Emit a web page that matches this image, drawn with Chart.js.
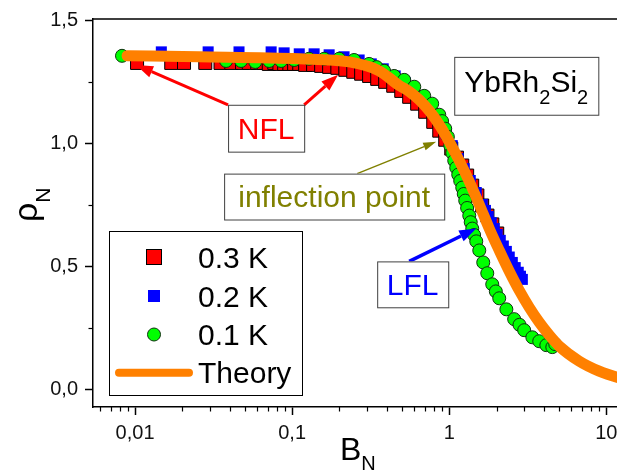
<!DOCTYPE html>
<html>
<head>
<meta charset="utf-8">
<script src="https://cdn.jsdelivr.net/npm/chart.js@4.4.0/dist/chart.umd.min.js"></script>
<style>
  html, body { margin: 0; padding: 0; background: #fff; overflow: hidden; }
  #wrap { width: 660px; height: 470px; }
</style>
</head>
<body>
<div id="wrap"><canvas id="myChart" width="660" height="470"></canvas></div>
<script>
const FONT = '"Liberation Sans", Arial, Helvetica, sans-serif';

// 0.3 K (red squares)
const b03 = [0.0103,0.017,0.0205,0.028,0.035,0.041,0.048,0.053,0.06,0.066,0.071,0.077,0.083,0.089,0.096,0.103,0.111,0.121,0.136,0.153,0.172,0.194,0.218,0.245,0.275,0.309,0.348,0.391,0.44,0.495,0.556,0.625,0.703,0.791,0.864,0.943,1.03,1.12,1.21,1.30,1.40,1.51,1.62,1.75,1.88,2.02];
const rho03 = [1.329,1.329,1.329,1.329,1.329,1.329,1.329,1.329,1.329,1.329,1.325,1.329,1.325,1.325,1.325,1.325,1.325,1.321,1.321,1.317,1.313,1.309,1.301,1.293,1.285,1.276,1.264,1.252,1.236,1.215,1.191,1.163,1.130,1.089,1.053,1.016,0.980,0.943,0.911,0.870,0.829,0.789,0.748,0.707,0.671,0.634];

// 0.2 K (blue squares)
const b02 = [0.0147,0.0292,0.0459,0.0735,0.0889,0.111,0.138,0.172,0.214,0.267,0.319,0.38,0.453,0.525,0.598,0.683,0.768,0.864,0.957,1.045,1.141,1.246,1.361,1.486,1.623,1.70,1.772,1.85,1.935,2.02,2.113,2.21,2.31,2.41,2.52,2.63,2.75,2.84,2.92];
const rho02 = [1.374,1.374,1.374,1.374,1.370,1.366,1.366,1.362,1.354,1.341,1.325,1.305,1.276,1.248,1.215,1.179,1.138,1.093,1.041,0.992,0.939,0.898,0.85,0.801,0.752,0.728,0.703,0.678,0.654,0.63,0.606,0.583,0.561,0.538,0.516,0.495,0.476,0.46,0.447];

// 0.1 K (green circles)
const b01 = [0.00826,0.038,0.0473,0.0582,0.0714,0.0851,0.103,0.128,0.16,0.199,0.248,0.309,0.345,0.385,0.446,0.517,0.599,0.693,0.779,0.864,0.90,0.943,0.98,1.015,1.045,1.076,1.108,1.141,1.175,1.21,1.237,1.264,1.30,1.341,1.37,1.401,1.44,1.486,1.553,1.646,1.746,1.878,1.98,2.081,2.31,2.59,2.8,3.0,3.38,3.74,4.15,4.53,4.73];
const rho01 = [1.358,1.337,1.337,1.333,1.337,1.337,1.341,1.346,1.346,1.346,1.341,1.325,1.312,1.297,1.276,1.260,1.232,1.195,1.163,1.118,1.092,1.061,1.028,0.992,0.962,0.931,0.902,0.874,0.848,0.821,0.795,0.768,0.738,0.707,0.68,0.654,0.628,0.602,0.565,0.516,0.472,0.427,0.398,0.370,0.325,0.285,0.262,0.240,0.211,0.195,0.179,0.171,0.183];

// theory curve
const bTheory = [0.0089,0.0256,0.111,0.231,0.358,0.48,0.556,0.644,0.746,0.864,1.0,1.158,1.341,1.553,1.798,2.081,2.41,2.79,3.23,3.74,4.33,5.01,6.71,9.0,12.1,16.2];
const rhoTheory = [1.358,1.354,1.346,1.333,1.297,1.237,1.213,1.179,1.134,1.077,1.008,0.931,0.846,0.752,0.654,0.565,0.480,0.402,0.333,0.272,0.220,0.175,0.114,0.073,0.045,0.024];

const seriesLabels = ['0.3 K', '0.2 K', '0.1 K', 'Theory'];

const xMajor = [0.01, 0.1, 1, 10];
const xMajorLabels = ['0,01', '0,1', '1', '10'];
const yMajor = [0, 0.5, 1.0, 1.5];
const yMajorLabels = ['0,0', '0,5', '1,0', '1,5'];
const yMinor = [0.25, 0.75, 1.25];

const X_MIN = 0.0054, X_MAX = 15, Y_MIN = -0.073, Y_MAX = 1.508;

// annotation boxes / arrows, in data coordinates
const annoBoxes = [
  {label: 'NFL', color: '#ff0000', x0: 0.0391, y0: 1.1585, x1: 0.1193, y1: 0.9675},
  {label: 'inflection point', color: '#808000', x0: 0.0369, y0: 0.878, x1: 0.929, y1: 0.691},
  {label: 'LFL', color: '#0000ff', x0: 0.3478, y0: 0.5203, x1: 0.9855, y1: 0.3333}
];
const annoArrows = [
  {x0: 0.0391, y0: 1.1585, x1: 0.01015, y1: 1.321, color: '#ff0000', w: 3, hl: 17, hw: 12},
  {x0: 0.1193, y0: 1.1585, x1: 0.1963, y1: 1.2805, color: '#ff0000', w: 3, hl: 17, hw: 12},
  {x0: 0.2595, y0: 0.878, x1: 0.826, y1: 1.008, color: '#808000', w: 1.5, hl: 13, hw: 8},
  {x0: 0.556, y0: 0.5203, x1: 1.486, y1: 0.6545, color: '#0000ff', w: 3.5, hl: 17, hw: 12}
];
const compoundBox = {x0: 1.076, y0: 1.3537, x1: 8.89, y1: 1.1179};

function toPoints(xs, ys) {
  return xs.map(function (x, i) { return {x: x, y: ys[i]}; });
}

var xMinor = [];
[0.001, 0.01, 0.1, 1, 10].forEach(function (d) {
  for (var k = 2; k <= 9; k++) xMinor.push(+(d * k).toPrecision(3));
});
xMinor = xMinor.filter(function (v) { return v >= X_MIN && v <= X_MAX; });

function isMajorX(v) { return xMajor.some(function (m) { return Math.abs(m - v) / m < 1e-6; }); }
function isMajorY(v) { return yMajor.some(function (m) { return Math.abs(m - v) < 1e-6; }); }

function arrow(ctx, x1, y1, x2, y2, color, lw, hl, hw) {
  var ang = Math.atan2(y2 - y1, x2 - x1);
  var bx = x2 - hl * Math.cos(ang), by = y2 - hl * Math.sin(ang);
  ctx.strokeStyle = color;
  ctx.lineWidth = lw;
  ctx.beginPath();
  ctx.moveTo(x1, y1);
  ctx.lineTo(bx, by);
  ctx.stroke();
  ctx.fillStyle = color;
  ctx.beginPath();
  ctx.moveTo(x2, y2);
  ctx.lineTo(bx + hw / 2 * Math.sin(ang), by - hw / 2 * Math.cos(ang));
  ctx.lineTo(bx - hw / 2 * Math.sin(ang), by + hw / 2 * Math.cos(ang));
  ctx.closePath();
  ctx.fill();
}

const extras = {
  id: 'extras',
  afterDatasetsDraw: function (chart) {
    const ctx = chart.ctx, xs = chart.scales.x, ys = chart.scales.y;
    ctx.save();
    annoArrows.forEach(function (a) {
      arrow(ctx, xs.getPixelForValue(a.x0), ys.getPixelForValue(a.y0),
        xs.getPixelForValue(a.x1), ys.getPixelForValue(a.y1), a.color, a.w, a.hl, a.hw);
    });
    ctx.lineWidth = 1;
    ctx.textBaseline = 'alphabetic';
    annoBoxes.forEach(function (b) {
      var l = xs.getPixelForValue(b.x0), r = xs.getPixelForValue(b.x1);
      var t = ys.getPixelForValue(b.y0), btm = ys.getPixelForValue(b.y1);
      ctx.fillStyle = '#fff';
      ctx.fillRect(l, t, r - l, btm - t);
      ctx.strokeStyle = '#404040';
      ctx.strokeRect(l + 0.5, t + 0.5, r - l, btm - t);
      ctx.fillStyle = b.color;
      ctx.font = '30px ' + FONT;
      ctx.textAlign = 'center';
      ctx.fillText(b.label, (l + r) / 2, (t + btm) / 2 + 10.5);
    });
    // compound label
    var cl = xs.getPixelForValue(compoundBox.x0), cr = xs.getPixelForValue(compoundBox.x1);
    var ct = ys.getPixelForValue(compoundBox.y0), cb = ys.getPixelForValue(compoundBox.y1);
    ctx.fillStyle = '#fff';
    ctx.fillRect(cl, ct, cr - cl, cb - ct);
    ctx.strokeStyle = '#404040';
    ctx.strokeRect(cl + 0.5, ct + 0.5, cr - cl, cb - ct);
    ctx.fillStyle = '#000';
    ctx.textAlign = 'left';
    var base = (ct + cb) / 2 + 6, px = cl + 10;
    [['YbRh', 30, 0], ['2', 20, 12], ['Si', 30, 0], ['2', 20, 12]].forEach(function (p) {
      ctx.font = p[1] + 'px ' + FONT;
      ctx.fillText(p[0], px, base + p[2]);
      px += ctx.measureText(p[0]).width;
    });
    ctx.restore();
  },
  afterDraw: function (chart) {
    const ctx = chart.ctx, a = chart.chartArea, xs = chart.scales.x, ys = chart.scales.y;
    ctx.save();
    // frame top / right
    ctx.strokeStyle = '#000';
    ctx.lineWidth = 1.5;
    ctx.beginPath();
    ctx.moveTo(a.left, a.top);
    ctx.lineTo(a.right, a.top);
    ctx.lineTo(a.right, a.bottom);
    ctx.stroke();
    // minor ticks
    ctx.lineWidth = 1.2;
    xMinor.forEach(function (v) {
      var p = Math.round(xs.getPixelForValue(v)) + 0.5;
      ctx.beginPath(); ctx.moveTo(p, a.bottom); ctx.lineTo(p, a.bottom + 4.5); ctx.stroke();
    });
    yMinor.forEach(function (v) {
      var p = Math.round(ys.getPixelForValue(v)) + 0.5;
      ctx.beginPath(); ctx.moveTo(a.left, p); ctx.lineTo(a.left - 4.5, p); ctx.stroke();
    });

    // legend
    var L = a.left, B = a.bottom;
    ctx.fillStyle = '#fff';
    ctx.fillRect(L + 16, B - 176, 193, 164);
    ctx.strokeStyle = '#000';
    ctx.lineWidth = 1;
    ctx.strokeRect(L + 16.5, B - 175.5, 193, 164);
    var rows = [B - 150, B - 111, B - 72.5, B - 34.3];
    var mx = L + 61;
    // red square
    ctx.fillStyle = '#ff0000';
    ctx.fillRect(mx - 7.5, rows[0] - 7.5, 15, 15);
    ctx.strokeStyle = '#000';
    ctx.strokeRect(mx - 7.5, rows[0] - 7.5, 15, 15);
    // blue square
    ctx.fillStyle = '#0000ff';
    ctx.fillRect(mx - 6, rows[1] - 6, 12, 12);
    // green circle
    ctx.fillStyle = '#00ff00';
    ctx.beginPath();
    ctx.arc(mx, rows[2], 6.5, 0, Math.PI * 2);
    ctx.fill();
    ctx.strokeStyle = '#103010';
    ctx.stroke();
    // theory line
    ctx.strokeStyle = '#ff8000';
    ctx.lineWidth = 8;
    ctx.lineCap = 'round';
    ctx.beginPath();
    ctx.moveTo(L + 26, rows[3]);
    ctx.lineTo(L + 96, rows[3]);
    ctx.stroke();
    ctx.fillStyle = '#000';
    ctx.font = '30px ' + FONT;
    ctx.textAlign = 'left';
    ctx.textBaseline = 'alphabetic';
    seriesLabels.forEach(function (s, i) {
      ctx.fillText(s, L + 105, rows[i] + 10.5);
    });

    // axis titles
    ctx.font = '32px ' + FONT;
    ctx.fillText('B', 340, 460);
    var bw = ctx.measureText('B').width;
    ctx.font = '20px ' + FONT;
    ctx.fillText('N', 340 + bw, 470);

    ctx.translate(37, 222);
    ctx.rotate(-Math.PI / 2);
    ctx.font = '34px ' + FONT;
    ctx.fillText('\u03c1', 0, 0);
    var rw = ctx.measureText('\u03c1').width;
    ctx.font = '21px ' + FONT;
    ctx.fillText('N', rw, 13);
    ctx.restore();
  }
};

window.onload = function () {
  Chart.defaults.font.family = FONT;
  const data = {
    datasets: [{
      label: seriesLabels[3],
      data: toPoints(bTheory, rhoTheory),
      showLine: true,
      borderColor: '#ff8000',
      borderWidth: 11,
      borderCapStyle: 'round',
      cubicInterpolationMode: 'monotone',
      pointRadius: 0,
      fill: false
    }, {
      label: seriesLabels[2],
      data: toPoints(b01, rho01),
      pointStyle: 'circle',
      pointRadius: 6.5,
      backgroundColor: '#00ff00',
      borderColor: '#103010',
      borderWidth: 1
    }, {
      label: seriesLabels[1],
      data: toPoints(b02, rho02),
      pointStyle: 'rect',
      pointRadius: 7.8,
      backgroundColor: '#0000ff',
      borderColor: '#0000ff',
      borderWidth: 0
    }, {
      label: seriesLabels[0],
      data: toPoints(b03, rho03),
      pointStyle: 'rect',
      pointRadius: 9.2,
      backgroundColor: '#ff0000',
      borderColor: '#000',
      borderWidth: 1
    }]
  };

  new Chart('myChart', {
    type: 'scatter',
    data: data,
    plugins: [extras],
    options: {
      responsive: false,
      animation: false,
      devicePixelRatio: 1,
      layout: { padding: { top: 18, right: 26, bottom: 0, left: 0 } },
      plugins: { legend: { display: false }, tooltip: { enabled: false } },
      scales: {
        x: {
          type: 'logarithmic',
          min: X_MIN, max: X_MAX,
          afterBuildTicks: function (s) {
            s.ticks = xMinor.concat(xMajor).sort(function (p, q) { return p - q; })
              .map(function (v) { return {value: v}; });
          },
          afterFit: function (s) { s.height = 63; },
          border: { color: '#000', width: 1.5 },
          grid: {
            drawOnChartArea: false, tickLength: 8, tickWidth: 1.5,
            tickColor: function (c) { return c.tick && isMajorX(c.tick.value) ? '#000' : 'rgba(0,0,0,0)'; }
          },
          ticks: {
            autoSkip: false, maxRotation: 0, padding: 6, color: '#111',
            font: { size: 20 },
            callback: function (v) { var i = xMajor.findIndex(function (m) { return Math.abs(m - v) / m < 1e-6; }); return i >= 0 ? xMajorLabels[i] : ''; }
          }
        },
        y: {
          min: Y_MIN, max: Y_MAX,
          afterBuildTicks: function (s) {
            s.ticks = yMajor.concat(yMinor).sort(function (p, q) { return p - q; })
              .map(function (v) { return {value: v}; });
          },
          afterFit: function (s) { s.width = 93; },
          border: { color: '#000', width: 1.5 },
          grid: {
            drawOnChartArea: false, tickLength: 8, tickWidth: 1.5,
            tickColor: function (c) { return c.tick && isMajorY(c.tick.value) ? '#000' : 'rgba(0,0,0,0)'; }
          },
          ticks: {
            padding: 7, color: '#111',
            font: { size: 20 },
            callback: function (v) { var i = yMajor.findIndex(function (m) { return Math.abs(m - v) < 1e-6; }); return i >= 0 ? yMajorLabels[i] : ''; }
          }
        }
      }
    }
  });
};
</script>
</body>
</html>
